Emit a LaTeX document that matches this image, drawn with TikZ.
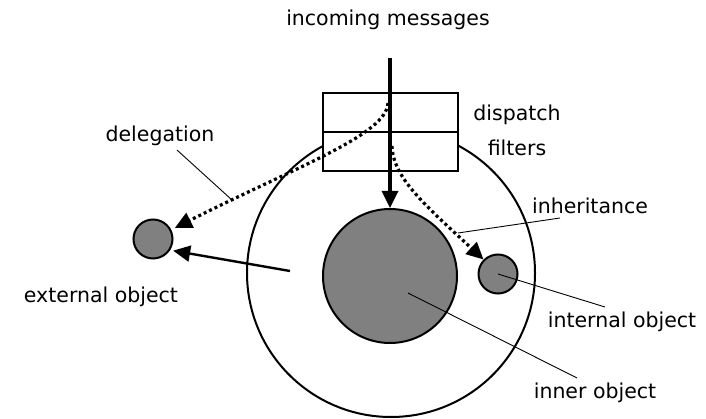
\documentclass[tikz,border=0pt]{standalone}
\usepackage{fontspec}
\setmainfont{DejaVu Sans}
\usetikzlibrary{arrows.meta,positioning}

\begin{document}
\begin{tikzpicture}[x=1pt,y=-1pt,
	lbl/.style={font=\fontsize{20.5}{24}\selectfont,inner sep=0pt},
	obj/.style={circle,draw,line width=2pt,fill=gray,inner sep=0pt,minimum size=#1},
	msg/.style={line width=#1,-{Triangle[length=17pt,width=16pt]}},
	dots/.style={line width=3.2pt,dash pattern=on 3pt off 3pt,-{Triangle[length=17pt,width=16pt]}},
	lead/.style={line width=0.9pt}]
	\useasboundingbox (0,0) rectangle (706,419);

	\node(outer) [circle,draw,line width=2pt,inner sep=0pt,minimum size=288pt] at (391,273) {};
	\node(filters) [draw,fill=white,line width=2pt,minimum width=135pt,minimum height=78pt] at (390.5,132) {};
	\draw[line width=2pt] (filters.west) -- (filters.east);
	\node(inner) [obj=134pt] at (390,276) {};
	\node(ext) [obj=39pt] at (153,239) {};
	\node(int) [obj=39pt] at (498,274) {};

	\node(in) [lbl] at (388,20) {incoming messages};
	\node(disp) [lbl,align=center] at (517,130) {dispatch\\[11pt]filters};
	\node(deleg) [lbl] at (160,136) {delegation};
	\node(inh) [lbl] at (590,206) {inheritance};
	\node(extlbl) [lbl] at (101,297) {external object};
	\node(intlbl) [lbl] at (622,322) {internal object};
	\node(innlbl) [lbl] at (595,393) {inner object};

	\coordinate(top) at (390,58);
	\coordinate(d0) at (388,103);
	\coordinate(i0) at (392,146);
	\coordinate(s0) at (290,271);

	\draw[msg=3.4pt] (top) -- (inner);
	\draw[dots,shorten >=4pt] (d0) .. controls (386,135) and (300,165) .. (ext.27);
	\draw[dots] (i0) .. controls (393,178) and (425,205) .. (int.135);
	\draw[msg=2.4pt,shorten >=3pt] (s0) -- (ext.-33);

	% leader lines
	\coordinate(dl1) at (177,150);
	\coordinate(dl2) at (232,200);
	\coordinate(il1) at (560,218);
	\coordinate(il2) at (458,233);
	\coordinate(tl) at (605,307);
	\coordinate(nl1) at (408,293);
	\coordinate(nl2) at (577,378);
	\draw[lead] (dl1) -- (dl2);
	\draw[lead] (il1) -- (il2);
	\draw[lead] (int.center) -- (tl);
	\draw[lead] (nl1) -- (nl2);
\end{tikzpicture}
\end{document}
